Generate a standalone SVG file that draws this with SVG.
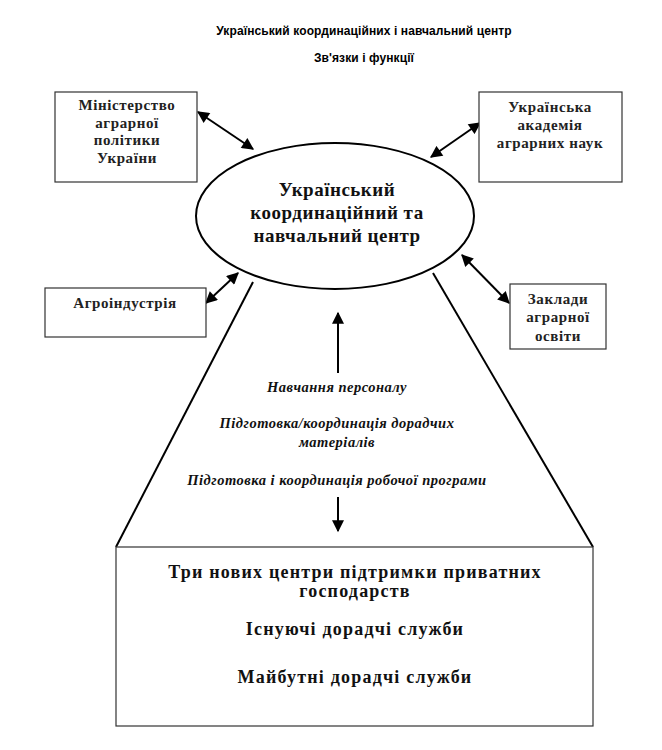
<svg xmlns="http://www.w3.org/2000/svg" width="662" height="750" viewBox="0 0 662 750">
<defs>
<marker id="ah" viewBox="0 0 10 10" refX="9" refY="5" markerWidth="7" markerHeight="6" orient="auto-start-reverse" markerUnits="strokeWidth">
<path d="M0,0 L10,5 L0,10 z" fill="#000"/>
</marker>
<marker id="ahv" viewBox="0 0 10 10" refX="9" refY="5" markerWidth="7" markerHeight="6" orient="auto" markerUnits="strokeWidth">
<path d="M0,0 L10,5 L0,10 z" fill="#000"/>
</marker>
</defs>
<style>
.box{fill:#fff;stroke:#333;stroke-width:1.2}
.ttl{font-family:"Liberation Sans",Arial,sans-serif;font-weight:bold;font-size:12px;fill:#000;text-anchor:middle;letter-spacing:0.1px}
.bt{font-family:"Liberation Serif","Times New Roman",serif;font-weight:bold;font-size:15px;fill:#222;text-anchor:middle;letter-spacing:0.6px}
.et{font-family:"Liberation Serif","Times New Roman",serif;font-weight:bold;font-size:19px;fill:#111;text-anchor:middle;letter-spacing:0.5px}
.it{font-family:"Liberation Serif","Times New Roman",serif;font-weight:bold;font-style:italic;font-size:14.5px;fill:#111;text-anchor:middle;letter-spacing:0.5px}
.lt{font-family:"Liberation Serif","Times New Roman",serif;font-weight:bold;font-size:18px;fill:#111;text-anchor:middle;letter-spacing:1.2px}
.ln{stroke:#000;stroke-width:2;fill:none}
.ar{stroke:#000;stroke-width:2;fill:none;marker-start:url(#ah);marker-end:url(#ah)}
</style>
<rect width="662" height="750" fill="#fff"/>
<g id="title">
<text class="ttl" x="364" y="35">Український координаційних і навчальний центр</text>
<text class="ttl" x="364" y="62">Зв'язки і функції</text>
</g>
<g id="connectors">
<line class="ar" x1="198" y1="112" x2="253" y2="149"/>
<line class="ar" x1="480" y1="123" x2="431" y2="157"/>
<line class="ar" x1="206" y1="303" x2="238" y2="273"/>
<line class="ar" x1="509" y1="303" x2="462" y2="255"/>
<line class="ln" x1="338" y1="373" x2="338" y2="313" marker-end="url(#ahv)"/>
<line class="ln" x1="338" y1="497" x2="338" y2="531" marker-end="url(#ahv)"/>
<line class="ln" x1="253" y1="282" x2="116" y2="547"/>
<line class="ln" x1="433" y1="273" x2="593" y2="547"/>
</g>
<g id="center">
<ellipse cx="335" cy="216" rx="139" ry="73" fill="#fff" stroke="#000" stroke-width="2"/>
<text class="et" x="337" y="196">Український</text>
<text class="et" x="337" y="219">координаційний та</text>
<text class="et" x="337" y="242">навчальний центр</text>
</g>
<g id="ministry">
<rect class="box" x="55" y="92" width="142" height="90"/>
<text class="bt" x="127" y="110">Міністерство</text>
<text class="bt" x="127" y="128">аграрної</text>
<text class="bt" x="127" y="145">політики</text>
<text class="bt" x="127" y="163">України</text>
</g>
<g id="academy">
<rect class="box" x="479" y="92" width="143" height="90"/>
<text class="bt" x="550" y="112">Українська</text>
<text class="bt" x="550" y="130">академія</text>
<text class="bt" x="550" y="148">аграрних наук</text>
</g>
<g id="agro">
<rect class="box" x="45" y="288" width="161" height="49"/>
<text class="bt" x="125" y="308">Агроіндустрія</text>
</g>
<g id="education">
<rect class="box" x="510" y="284" width="96" height="65"/>
<text class="bt" x="558" y="304">Заклади</text>
<text class="bt" x="558" y="322">аграрної</text>
<text class="bt" x="558" y="341">освіти</text>
</g>
<g id="functions">
<text class="it" x="337" y="392">Навчання персоналу</text>
<text class="it" x="337" y="428">Підготовка/координація дорадчих</text>
<text class="it" x="337" y="447">матеріалів</text>
<text class="it" x="337" y="485">Підготовка і координація робочої програми</text>
</g>
<g id="services">
<rect class="box" x="116" y="547" width="477" height="179"/>
<text class="lt" x="355" y="578">Три нових центри підтримки приватних</text>
<text class="lt" x="355" y="597">господарств</text>
<text class="lt" x="355" y="635">Існуючі дорадчі служби</text>
<text class="lt" x="355" y="683">Майбутні дорадчі служби</text>
</g>
</svg>
